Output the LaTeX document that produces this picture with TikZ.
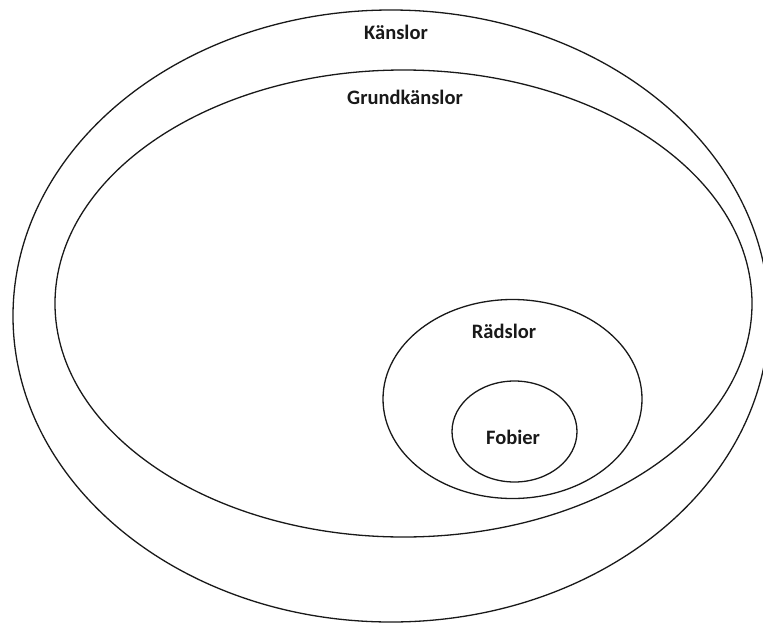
\documentclass[tikz,border=0pt]{standalone}
\usepackage{fontspec}
\setmainfont{Carlito}
\usetikzlibrary{shapes.geometric}
\begin{document}
\begin{tikzpicture}[x=1pt,y=-1pt,
  ring/.style={draw=black!90,line width=1.3pt},
  lbl/.style={font=\bfseries\fontsize{20.5}{24}\selectfont,text=black!90,inner sep=0pt}]
  \useasboundingbox (0,0) rectangle (763,624);
  \clip (0,0) rectangle (763,624);
  % nested sets
  \draw[ring] (391,316) ellipse [x radius=378, y radius=306];
  \draw[ring] (403.5,303.5) ellipse [x radius=348.5, y radius=233.5];
  \draw[ring] (512.5,399) ellipse [x radius=129.5, y radius=99.5];
  \draw[ring] (514.5,431.5) ellipse [x radius=62.5, y radius=50.5];
  % labels
  \node[lbl] (kanslor) at (396,32) {Känslor};
  \node[lbl] (grund) at (405,97) {Grundkänslor};
  \node[lbl] (radslor) at (504,331) {Rädslor};
  \node[lbl] (fobier) at (513,437) {Fobier};
\end{tikzpicture}
\end{document}
